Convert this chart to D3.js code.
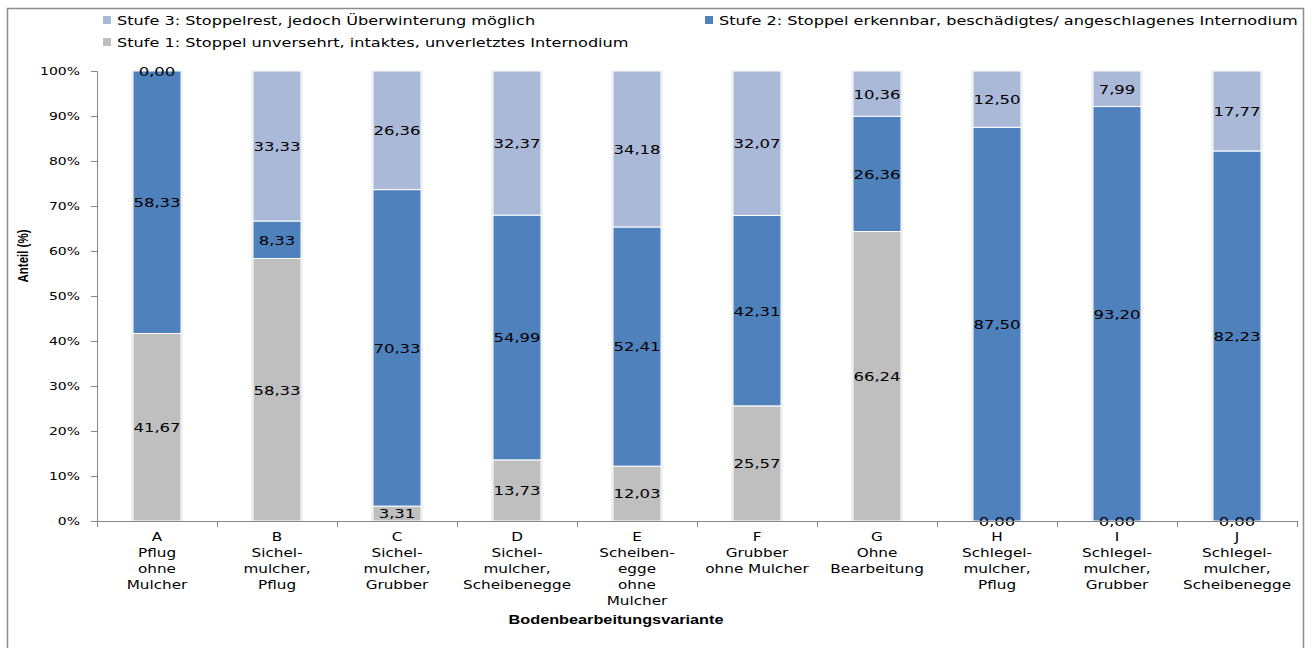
<!DOCTYPE html>
<html>
<head>
<meta charset="utf-8">
<script src="https://cdn.jsdelivr.net/npm/d3@7"></script>
<style>
  html, body { margin: 0; padding: 0; background: #fff; }
  svg { display: block; }
  text { font-family: "DejaVu Sans", Verdana, sans-serif; fill: #000; }
</style>
</head>
<body>
<svg id="chart" width="1312" height="648"></svg>
<script>
// Treatment variants (x categories) with their multi-line tick labels
const categories = ["A", "B", "C", "D", "E", "F", "G", "H", "I", "J"];
const categoryLabels = [
  ["A", "Pflug", "ohne", "Mulcher"],
  ["B", "Sichel-", "mulcher,", "Pflug"],
  ["C", "Sichel-", "mulcher,", "Grubber"],
  ["D", "Sichel-", "mulcher,", "Scheibenegge"],
  ["E", "Scheiben-", "egge", "ohne", "Mulcher"],
  ["F", "Grubber", "ohne Mulcher"],
  ["G", "Ohne", "Bearbeitung"],
  ["H", "Schlegel-", "mulcher,", "Pflug"],
  ["I", "Schlegel-", "mulcher,", "Grubber"],
  ["J", "Schlegel-", "mulcher,", "Scheibenegge"]
];

// Share of stubble per damage class (values as labelled)
const stufe1 = [41.67, 58.33, 3.31, 13.73, 12.03, 25.57, 66.24, 0.00, 0.00, 0.00];
const stufe2 = [58.33, 8.33, 70.33, 54.99, 52.41, 42.31, 26.36, 87.50, 93.20, 82.23];
const stufe3 = [0.00, 33.33, 26.36, 32.37, 34.18, 32.07, 10.36, 12.50, 7.99, 17.77];

const seriesNames = [
  "Stufe 1: Stoppel unversehrt, intaktes, unverletztes Internodium",
  "Stufe 2: Stoppel erkennbar, beschädigtes/ angeschlagenes Internodium",
  "Stufe 3: Stoppelrest, jedoch Überwinterung möglich"
];
const yTickValues = [0, 0.1, 0.2, 0.3, 0.4, 0.5, 0.6, 0.7, 0.8, 0.9, 1.0];
const xTitle = "Bodenbearbeitungsvariante";
const yTitle = "Anteil (%)";

const colors = ["#bfbfbf", "#4f81bd", "#a9b9d7"];
const SX = 1.27; // horizontal glyph stretch

const svg = d3.select("#chart");

// outer frame
svg.append("rect")
  .attr("x", 7.5).attr("y", 8.5).attr("width", 1296).attr("height", 660)
  .attr("fill", "none").attr("stroke", "#8c8c8c").attr("stroke-width", 1.5);

const margin = { left: 97, right: 1297, top: 71, bottom: 521 };

const x = d3.scaleBand()
  .domain(categories)
  .range([margin.left, margin.right])
  .paddingInner(0.6)
  .paddingOuter(0.3);

const y = d3.scaleLinear().domain([0, 1]).range([margin.bottom, margin.top]);

const rows = categories.map((c, i) => ({ cat: c, s1: stufe1[i], s2: stufe2[i], s3: stufe3[i] }));
const keys = ["s1", "s2", "s3"];
const stacked = d3.stack().keys(keys).offset(d3.stackOffsetExpand)(rows);

const locale = d3.formatLocale({ decimal: ",", thousands: ".", grouping: [3], currency: ["", " €"] });
const fmt = locale.format(".2f");

function stretchedText(sel, px, py) {
  sel.attr("transform", `translate(${px},${py}) scale(${SX},1)`);
  return sel;
}

// soft edge behind each column
svg.append("g").selectAll("rect")
  .data(categories)
  .join("rect")
  .attr("x", d => x(d) - 1.5)
  .attr("width", x.bandwidth() + 3)
  .attr("y", y(1) - 0.5)
  .attr("height", y(0) - y(1) + 0.5)
  .attr("fill", "#e4e4e4");

// stacked segments
const layers = svg.append("g").selectAll("g")
  .data(stacked)
  .join("g")
  .attr("fill", (d, i) => colors[i]);

layers.selectAll("rect")
  .data(d => d.map(v => ({ v, cat: v.data.cat })))
  .join("rect")
  .attr("x", d => x(d.cat))
  .attr("width", x.bandwidth())
  .attr("y", d => y(d.v[1]))
  .attr("height", d => y(d.v[0]) - y(d.v[1]))
  .attr("stroke", "#ffffff")
  .attr("stroke-width", 1);

// value labels at segment centres
const labelG = svg.append("g");
stacked.forEach(layer => {
  layer.forEach(v => {
    const cx = x(v.data.cat) + x.bandwidth() / 2;
    const cy = y((v[0] + v[1]) / 2);
    labelG.append("text")
      .attr("text-anchor", "middle")
      .attr("dominant-baseline", "central")
      .style("font-size", "13px")
      .attr("fill", "#111")
      .text(fmt(v.data[layer.key]))
      .call(s => stretchedText(s, cx, cy + 0.5));
  });
});

// y axis
const yAxis = d3.axisLeft(y).tickValues(yTickValues).tickFormat(d3.format(".0%")).tickSize(6).tickPadding(10);
const yg = svg.append("g").attr("transform", `translate(${margin.left},0)`).call(yAxis);
yg.select(".domain").attr("stroke", "#868686");
yg.selectAll(".tick line").attr("stroke", "#868686");
yg.selectAll(".tick text")
  .attr("x", null).attr("dy", null)
  .attr("dominant-baseline", "central")
  .style("font-size", "11px")
  .style("font-family", "DejaVu Sans, sans-serif")
  .attr("fill", "#222")
  .attr("transform", `translate(-17,0) scale(${SX},1)`);

// x axis line and category separators
const xg = svg.append("g");
xg.append("line")
  .attr("x1", margin.left).attr("x2", margin.right)
  .attr("y1", y(0) + 0.5).attr("y2", y(0) + 0.5)
  .attr("stroke", "#868686");
const gap = x.step() - x.bandwidth();
const boundaries = categories.map(c => x(c) - gap / 2).concat([x(categories[categories.length - 1]) + x.bandwidth() + gap / 2]);
xg.selectAll("line.sep")
  .data(boundaries)
  .join("line")
  .attr("class", "sep")
  .attr("x1", d => Math.round(d) + 0.5).attr("x2", d => Math.round(d) + 0.5)
  .attr("y1", y(0)).attr("y2", y(0) + 6)
  .attr("stroke", "#868686");

// multi-line category labels
categories.forEach((c, i) => {
  const cx = x(c) + x.bandwidth() / 2;
  categoryLabels[i].forEach((line, j) => {
    xg.append("text")
      .attr("text-anchor", "middle")
      .style("font-size", "12px")
      .attr("fill", "#222")
      .text(line)
      .call(s => stretchedText(s, cx, 541 + j * 16));
  });
});

// axis titles
svg.append("text")
  .attr("text-anchor", "middle")
  .style("font-family", "Liberation Sans, Arial, sans-serif")
  .style("font-weight", "bold")
  .style("font-size", "12.8px")
  .text(xTitle)
  .call(s => stretchedText(s, 616, 624));

svg.append("text")
  .attr("text-anchor", "middle")
  .attr("dominant-baseline", "central")
  .style("font-family", "Liberation Sans, Arial, sans-serif")
  .style("font-weight", "bold")
  .style("font-size", "11.5px")
  .text(yTitle)
  .attr("transform", `translate(23,256) scale(${SX},1) rotate(-90)`);

// legend
const legendItems = [
  { name: seriesNames[2], color: colors[2], x: 103, y: 20 },
  { name: seriesNames[1], color: colors[1], x: 705, y: 20 },
  { name: seriesNames[0], color: colors[0], x: 103, y: 42 }
];
const lg = svg.append("g");
legendItems.forEach(it => {
  lg.append("rect").attr("x", it.x).attr("y", it.y - 4).attr("width", 8).attr("height", 8).attr("fill", it.color);
  lg.append("text")
    .attr("dominant-baseline", "central")
    .style("font-size", "12.7px")
    .attr("fill", "#222")
    .text(it.name)
    .call(s => stretchedText(s, it.x + 14, it.y + 0.5));
});
</script>
</body>
</html>
